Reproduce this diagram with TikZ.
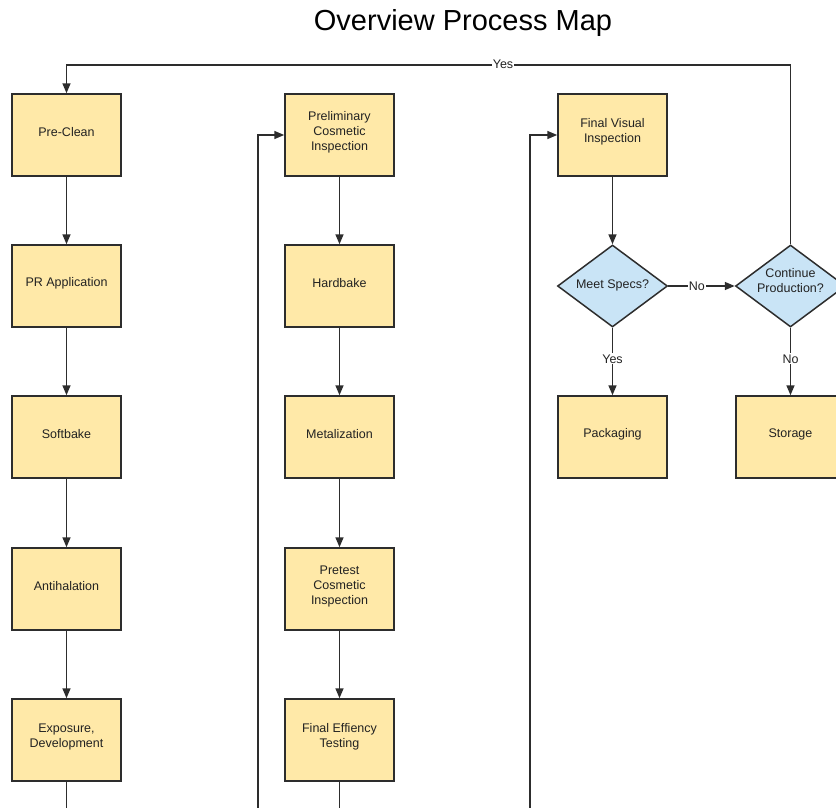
\documentclass[tikz,border=0pt]{standalone}
\usepackage{fontspec}
\setmainfont{Liberation Sans}
\usetikzlibrary{arrows.meta,shapes.geometric}

\definecolor{boxfill}{RGB}{255,233,168}
\definecolor{decfill}{RGB}{201,228,246}
\definecolor{edge}{RGB}{45,45,45}
\definecolor{ink}{RGB}{34,34,34}

\tikzset{
  stepbox/.style={draw=edge, line width=1.5pt, fill=boxfill, rectangle,
    minimum width=109pt, minimum height=82pt, inner sep=0pt},
  decision/.style={draw=edge, line width=1.5pt, fill=decfill, diamond,
    minimum width=110pt, minimum height=82pt, inner sep=0pt},
  boxtext/.style={align=center, text=ink, inner sep=0pt,
    font=\fontsize{12.5}{15}\selectfont},
  flow/.style={draw=edge, line width=1.6pt},
  arrow/.style={flow, -{Triangle[length=10pt,width=8pt]}},
  tag/.style={fill=white, inner sep=1pt, text=ink,
    font=\fontsize{12.5}{14}\selectfont}
}

% a process box with its caption set a little above centre
\newcommand{\stepat}[3]{%
  \node[stepbox] (#1) at (#2) {};
  \node[boxtext, yshift=3pt] (#1-text) at (#1) {#3};}

\begin{document}
\begin{tikzpicture}[x=1pt,y=-1pt]
\useasboundingbox (0,0) rectangle (836,807);
\clip (0,0) rectangle (836,807);

\node[font=\fontsize{29}{34}\selectfont, text=black] (title) at (463,23) {Overview Process Map};

% first column
\stepat{pre}{66.5,135}{Pre-Clean}
\stepat{pr}{66.5,286}{PR Application}
\stepat{soft}{66.5,437}{Softbake}
\stepat{anti}{66.5,589}{Antihalation}
\stepat{expo}{66.5,740}{Exposure,\\Development}

% second column
\stepat{prelim}{339.5,135}{Preliminary\\Cosmetic\\Inspection}
\stepat{hard}{339.5,286}{Hardbake}
\stepat{metal}{339.5,437}{Metalization}
\stepat{pretest}{339.5,589}{Pretest\\Cosmetic\\Inspection}
\stepat{eff}{339.5,740}{Final Effiency\\Testing}

% third column
\stepat{fvi}{612.5,135}{Final Visual\\Inspection}
\node[decision] (meet) at (612.5,286) {};
\node[boxtext, yshift=1pt] (meet-text) at (meet) {Meet Specs?};
\node[decision] (cont) at (790.5,286) {};
\node[boxtext, yshift=5pt] (cont-text) at (cont) {Continue\\Production?};
\stepat{pack}{612.5,437}{Packaging}
\stepat{store}{790.5,437}{Storage}

% loose ends running past the lower edge
\coordinate (out1) at (66.5,830);
\coordinate (out2) at (339.5,830);
\coordinate (in2)  at (258,830);
\coordinate (in3)  at (530,830);
\coordinate (topleft) at (66.5,65);

% straight chains
\draw[arrow] (pre) -- (pr);
\draw[arrow] (pr) -- (soft);
\draw[arrow] (soft) -- (anti);
\draw[arrow] (anti) -- (expo);
\draw[flow] (expo) -- (out1);

\draw[arrow] (prelim) -- (hard);
\draw[arrow] (hard) -- (metal);
\draw[arrow] (metal) -- (pretest);
\draw[arrow] (pretest) -- (eff);
\draw[flow] (eff) -- (out2);

% feeds into the tops of columns two and three
\draw[arrow] (in2) |- (prelim.west);
\draw[arrow] (in3) |- (fvi.west);

% decisions
\draw[arrow] (fvi) -- (meet);
\draw[arrow] (meet.east) -- node[tag, pos=0.43] (no1) {No} (cont.west);
\draw[arrow] (meet.south) -- node[tag, pos=0.46] (yes1) {Yes} (pack.north);
\draw[arrow] (cont.south) -- node[tag, pos=0.46] (no2) {No} (store.north);
\draw[arrow] (cont.north) |- (topleft) -- (pre.north);
\node[tag] (yes2) at (503,64) {Yes};
\end{tikzpicture}
\end{document}
